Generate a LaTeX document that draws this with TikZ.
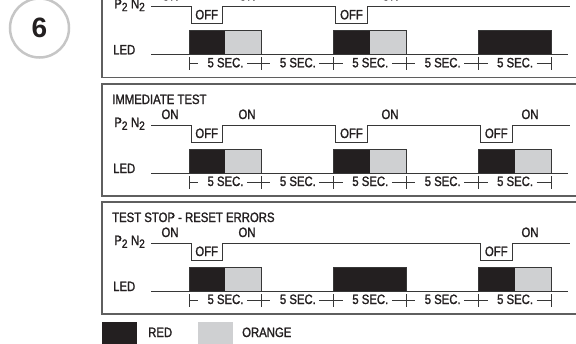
\documentclass[tikz,border=0pt]{standalone}
\usepackage{fontspec}
\setmainfont{Liberation Sans}[FakeStretch=0.84,FakeBold=1.5]
\newfontfamily\numfont{Liberation Sans}
\definecolor{redc}{RGB}{35,31,32}
\definecolor{orc}{RGB}{207,208,210}
\definecolor{linec}{RGB}{55,55,55}
\definecolor{framec}{RGB}{95,95,95}
\definecolor{circc}{RGB}{198,198,198}
\definecolor{txt}{RGB}{35,31,32}
\newcommand\lowsub[1]{\raisebox{-0.4ex}{\fontsize{12}{12}\selectfont #1}}
\tikzset{
  frame/.style={draw=framec, line width=1.3pt},
  sig/.style={draw=linec, line width=1pt},
  lbl/.style={font=\fontsize{13.5}{14}\selectfont, inner sep=0pt, text=txt},
}
% #1 top, #2 name, #3 title, #4 dip list, #5 ON x list, #6 blocks k/type (1 = red+orange, 0 = red)
\newcommand\tpanel[6]{%
\begin{scope}[shift={(0,#1)}]
\draw[frame] (102,0) rectangle (600,112);
\node[lbl,anchor=base west] (#2title) at (112,20) {#3};
\node[lbl,anchor=base east] (#2pn) at (145,43) {P\lowsub{2}\hspace{3.5pt}N\lowsub{2}};
\draw[sig] (151,41) \foreach \k in {#4} { -- ({189+72.4*\k+2},41) -- ++(0,17) -- ++(31.5,0) -- ++(0,-17) } -- (570,41);
\foreach \k in {#4} {\node[lbl,anchor=base] (#2off\k) at ({189+72.4*\k+17.7},54) {OFF};}
\foreach \x [count=\i] in {#5} {\node[lbl,anchor=base] (#2on\i) at (\x,35) {ON};}
\node[lbl,anchor=base west] (#2led) at (113,89) {LED};
\foreach \k/\t in {#6} {%
  \ifnum\t=1
    \fill[redc] ({189+72.4*\k},65) rectangle ++(36.2,24);
    \fill[orc] ({189+72.4*\k+36.2},65) rectangle ++(36.2,24);
  \else
    \fill[redc] ({189+72.4*\k},65) rectangle ++(72.4,24);
  \fi
  \draw[sig] ({189+72.4*\k},89) -- ++(0,-24) -- ++(72.4,0) -- ++(0,24);
}
\draw[sig] (151,89) -- (568,89);
\foreach \k in {0,...,4} {%
  \node[lbl,anchor=base] (#2sec\k) at ({189+72.4*\k+36.5},102) {5 SEC.};
  \draw[sig] ({189+72.4*\k},92) -- ++(0,13);
  \draw[sig] ({189+72.4*\k},98) -- ++(9,0);
  \draw[sig] ({189+72.4*\k+58},98) -- ++(14.4,0);
}
\draw[sig] (551,92) -- ++(0,13);
\end{scope}}
\begin{document}
\begin{tikzpicture}[x=1pt,y=-1pt]
\useasboundingbox (0,0) rectangle (576,343);
\clip (0,0) rectangle (576,343);
\draw[circc, line width=2.5pt] (39.5,28) circle (29.5);
\node[font=\numfont\bfseries\fontsize{28}{28}\selectfont, text=txt, inner sep=0pt] (num) at (39.5,28) {6};
\tpanel{-34.7}{a}{}{0,2}{170,247,390}{0/1,2/1,4/0}
\tpanel{84}{b}{IMMEDIATE TEST}{0,2,4}{170,247,390,530}{0/1,2/1,4/1}
\tpanel{202}{c}{TEST STOP - RESET ERRORS}{0,4}{170,247,530}{0/1,2/0,4/1}
\fill[redc] (102,322) rectangle (137,344);
\node[lbl,anchor=base west] (red) at (148,337) {RED};
\fill[orc] (198,322) rectangle (233,344);
\node[lbl,anchor=base west] (orange) at (242,337) {ORANGE};
\end{tikzpicture}
\end{document}
